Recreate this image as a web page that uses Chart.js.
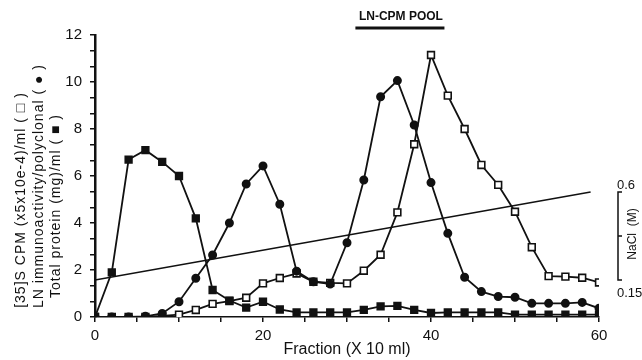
<!DOCTYPE html>
<html lang="en">
<head>
<meta charset="UTF-8">
<title>LN-CPM fractionation</title>
<style>
    body { margin: 0; background: #ffffff; }
    #wrap { width: 642px; height: 360px; }
</style>
</head>
<body>
<div id="wrap"><canvas id="chart"></canvas></div>
<script src="https://cdn.jsdelivr.net/npm/chart.js"></script>
<script>
// fraction number (x 10 ml)
const fractions = [0, 2, 4, 6, 8, 10, 12, 14, 16, 18, 20, 22, 24, 26, 28, 30, 32, 34, 36, 38, 40, 42, 44, 46, 48, 50, 52, 54, 56, 58, 60];
// [35]S CPM (x5x10e-4)/ml  - open squares
const cpm = [0, 0, 0, 0, 0.05, 0.1, 0.3, 0.56, 0.68, 0.82, 1.43, 1.66, 1.85, 1.5, 1.45, 1.43, 1.97, 2.65, 4.45, 7.35, 11.15, 9.42, 8.0, 6.47, 5.62, 4.48, 2.97, 1.74, 1.72, 1.67, 1.47];
// LN immunoactivity/polyclonal - filled circles
const lnImmuno = [0, 0, 0, 0.03, 0.15, 0.65, 1.65, 2.64, 4.0, 5.66, 6.43, 4.8, 1.95, 1.5, 1.4, 3.16, 5.83, 9.37, 10.06, 8.17, 5.72, 3.56, 1.69, 1.08, 0.87, 0.84, 0.58, 0.58, 0.58, 0.62, 0.37];
// Total protein (mg)/ml - filled squares
const totalProtein = [0, 1.9, 6.7, 7.1, 6.6, 6.0, 4.2, 1.15, 0.7, 0.4, 0.65, 0.32, 0.2, 0.2, 0.2, 0.2, 0.3, 0.45, 0.47, 0.3, 0.17, 0.2, 0.2, 0.2, 0.2, 0.1, 0.1, 0.1, 0.1, 0.1, 0.1];
// NaCl gradient
const naclFractions = [0, 59];
const naclMolar = [0.15, 0.6];
const poolRange = [31, 41.6];
const poolLabel = 'LN-CPM POOL';

const xTickLabels = [0, 20, 40, 60];
const yTickLabels = [0, 2, 4, 6, 8, 10, 12];
const naclTickLabels = [0.15, 0.6];
const yTitleLines = ['[35]S CPM (x5x10e-4)/ml ( \u25A1 )', 'LN immunoactivity/polyclonal ( \u25CF )', 'Total protein (mg)/ml ( \u25A0 )'];

const FONT = '"Liberation Sans", Arial, Helvetica, sans-serif';
const INK = '#111111';

function pairs(xs, ys) {
    return xs.map((x, i) => ({ x: x, y: ys[i] }));
}

// left title, NaCl bracket and pool bar
const decorations = {
    id: 'decorations',
    afterDraw(chart) {
        const { ctx, chartArea, scales } = chart;
        ctx.save();
        ctx.fillStyle = INK;
        ctx.strokeStyle = INK;

        // rotated three-line y title
        ctx.font = '14px ' + FONT;
        ctx.letterSpacing = '1px';
        ctx.textAlign = 'center';
        ctx.textBaseline = 'middle';
        const titleX = [21, 39, 56];
        const titleY = [200, 186, 206];
        yTitleLines.forEach((line, i) => {
            ctx.save();
            ctx.translate(titleX[i], titleY[i]);
            ctx.rotate(-Math.PI / 2);
            ctx.fillText(line, 0, 0);
            ctx.restore();
        });
        ctx.letterSpacing = '0px';

        // NaCl bracket on the right
        const y2 = scales.y2;
        const bx = chartArea.right + 19;
        const top = y2.getPixelForValue(naclTickLabels[1]);
        const bottom = y2.getPixelForValue(naclTickLabels[0]);
        const mid = y2.getPixelForValue((naclTickLabels[0] + naclTickLabels[1]) / 2);
        ctx.lineWidth = 1.5;
        ctx.beginPath();
        ctx.moveTo(bx + 4, top);
        ctx.lineTo(bx, top);
        ctx.lineTo(bx, bottom);
        ctx.lineTo(bx + 4, bottom);
        ctx.moveTo(bx, mid);
        ctx.lineTo(bx + 4, mid);
        ctx.stroke();

        ctx.font = '13px ' + FONT;
        ctx.textAlign = 'left';
        ctx.fillText(String(naclTickLabels[1]), bx - 1, top - 7);
        ctx.fillText(String(naclTickLabels[0]), bx - 1, bottom + 13);

        ctx.save();
        ctx.translate(bx + 15, mid - 2);
        ctx.rotate(-Math.PI / 2);
        ctx.textAlign = 'center';
        ctx.font = '12px ' + FONT;
        ctx.fillText('NaCl  (M)', 0, 0);
        ctx.restore();

        // pool bar above the plot
        const x = scales.x;
        const p0 = x.getPixelForValue(poolRange[0]);
        const p1 = x.getPixelForValue(poolRange[1]);
        ctx.lineWidth = 3;
        ctx.beginPath();
        ctx.moveTo(p0, chartArea.top - 7);
        ctx.lineTo(p1, chartArea.top - 7);
        ctx.stroke();
        ctx.font = 'bold 12px ' + FONT;
        ctx.textAlign = 'center';
        ctx.fillText(poolLabel, (p0 + p1) / 2 + 1, chartArea.top - 18);

        ctx.restore();
    }
};

const ctx = document.getElementById('chart').getContext('2d');
new Chart(ctx, {
    type: 'line',
    data: {
        datasets: [
            {
                label: 'Total protein',
                data: pairs(fractions, totalProtein),
                borderColor: INK,
                backgroundColor: INK,
                borderWidth: 1.8,
                pointStyle: 'rect',
                pointRadius: 4.6,
                pointBackgroundColor: INK,
                pointBorderColor: INK,
                yAxisID: 'y'
            },
            {
                label: 'LN immunoactivity',
                data: pairs(fractions, lnImmuno),
                borderColor: INK,
                backgroundColor: INK,
                borderWidth: 1.8,
                pointStyle: 'circle',
                pointRadius: 3.6,
                pointBackgroundColor: INK,
                pointBorderColor: INK,
                yAxisID: 'y'
            },
            {
                label: '[35]S CPM',
                data: pairs(fractions, cpm),
                borderColor: INK,
                backgroundColor: '#ffffff',
                borderWidth: 1.8,
                pointStyle: 'rect',
                pointRadius: 4.8,
                pointBorderWidth: 1.6,
                pointBackgroundColor: '#ffffff',
                pointBorderColor: INK,
                yAxisID: 'y'
            },
            {
                label: 'NaCl',
                data: pairs(naclFractions, naclMolar),
                borderColor: INK,
                borderWidth: 1.6,
                pointRadius: 0,
                yAxisID: 'y2'
            }
        ]
    },
    options: {
        responsive: true,
        maintainAspectRatio: false,
        animation: false,
        layout: { padding: { left: 0, right: 43, top: 35, bottom: 0 } },
        plugins: {
            legend: { display: false },
            tooltip: { enabled: false }
        },
        elements: { line: { tension: 0 } },
        scales: {
            x: {
                type: 'linear',
                min: 0,
                max: 60,
                afterFit: (scale) => { scale.height = 43; },
                afterBuildTicks: (scale) => {
                    const t = [];
                    for (let v = xTickLabels[0]; v <= xTickLabels[xTickLabels.length - 1]; v += 5) t.push({ value: v });
                    scale.ticks = t;
                },
                border: { display: true, color: INK, width: 1.5 },
                grid: { drawOnChartArea: false, drawTicks: true, tickLength: 5, color: INK, lineWidth: 1.5 },
                ticks: {
                    autoSkip: false,
                    maxRotation: 0,
                    padding: 5,
                    color: INK,
                    font: { family: FONT, size: 15 },
                    callback: (v) => xTickLabels.includes(v) ? String(v) : ''
                },
                title: {
                    display: true,
                    text: 'Fraction (X 10 ml)',
                    color: INK,
                    font: { family: FONT, size: 16 },
                    padding: { top: 0, bottom: 1 }
                }
            },
            y: {
                type: 'linear',
                min: 0,
                max: 12,
                afterFit: (scale) => { scale.width = 95; },
                afterBuildTicks: (scale) => {
                    const step = (yTickLabels[1] - yTickLabels[0]) / 3;
                    const n = Math.round((yTickLabels[yTickLabels.length - 1] - yTickLabels[0]) / step);
                    const t = [];
                    for (let i = 0; i <= n; i++) t.push({ value: yTickLabels[0] + i * step });
                    scale.ticks = t;
                },
                border: { display: true, color: INK, width: 2.5 },
                grid: { drawOnChartArea: false, drawTicks: true, tickLength: 5, color: INK, lineWidth: 1.5 },
                ticks: {
                    autoSkip: false,
                    padding: 8,
                    color: INK,
                    font: { family: FONT, size: 15 },
                    callback: (v) => {
                        const m = yTickLabels.find(l => Math.abs(l - v) < 1e-6);
                        return m === undefined ? '' : String(m);
                    }
                }
            },
            y2: {
                type: 'linear',
                position: 'right',
                display: false,
                min: -0.039,
                max: 1.403
            }
        }
    },
    plugins: [decorations]
});
</script>
</body>
</html>
